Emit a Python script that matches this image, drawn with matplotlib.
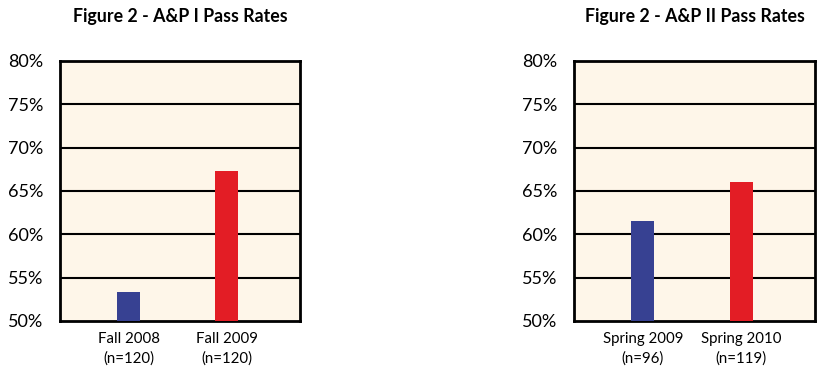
import matplotlib.pyplot as plt
from matplotlib.ticker import FuncFormatter

plt.rcParams['font.family'] = ['Lato', 'DejaVu Sans']

# left chart: A&P I
titles = ["Figure 2 - A&P I Pass Rates", "Figure 2 - A&P II Pass Rates"]
ap1_labels = ["Fall 2008\n(n=120)", "Fall 2009\n(n=120)"]
ap1_rates = [53.3, 67.3]
# right chart: A&P II
ap2_labels = ["Spring 2009\n(n=96)", "Spring 2010\n(n=119)"]
ap2_rates = [61.5, 66.0]

bar_colors = ["#374192", "#E31D25"]
bg = "#FEF6E9"

fig = plt.figure(figsize=(8.25, 3.74), dpi=100)
ax1 = fig.add_axes([0.0727, 0.142, 0.291, 0.695])
ax2 = fig.add_axes([0.6958, 0.142, 0.292, 0.695])

for ax, title, labels, rates in [(ax1, titles[0], ap1_labels, ap1_rates),
                                 (ax2, titles[1], ap2_labels, ap2_rates)]:
    ax.set_facecolor(bg)
    x = range(len(rates))
    ax.bar(x, rates, width=0.235, color=bar_colors, zorder=3)
    ax.set_ylim(50, 80)
    ax.set_xlim(-0.7, 1.75)
    ax.set_yticks(range(50, 81, 5))
    ax.yaxis.set_major_formatter(FuncFormatter(lambda v, p: f"{v:.0f}%"))
    ax.set_xticks(list(x))
    ax.set_xticklabels(labels, fontsize=10.8, linespacing=1.45)
    ax.tick_params(axis='y', length=0, pad=12, labelsize=13)
    ax.tick_params(axis='x', length=0, pad=8)
    for v in range(55, 80, 5):
        ax.axhline(v, color='black', lw=1.5, zorder=2)
    for s in ax.spines.values():
        s.set_color('black')
        s.set_linewidth(2)
    ax.set_title(title, fontsize=12.8, fontweight='bold', pad=28)

plt.savefig('out.png', dpi=100)
